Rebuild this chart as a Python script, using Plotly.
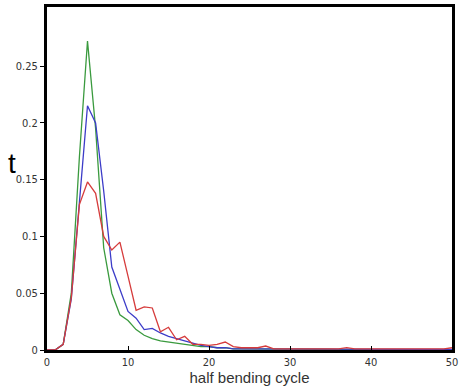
import plotly.graph_objects as go

x_vals = list(range(0, 51))

green = [0, 0, 0.005, 0.05, 0.17, 0.272, 0.195, 0.09, 0.05, 0.031, 0.026, 0.018, 0.013, 0.01, 0.008, 0.007,
         0.006, 0.005, 0.004, 0.003, 0.003, 0.002, 0.002, 0.001, 0.001, 0.001, 0.001, 0.001, 0.0005, 0.0005, 0.0005,
         0.0005, 0.0005, 0.0005, 0.0005, 0.0005, 0.0003, 0.0003, 0.0003, 0.0003, 0.0003, 0.0003, 0.0003, 0.0003,
         0.0003, 0.0003, 0.0003, 0.0003, 0.0003, 0.0003, 0.0003]
blue = [0, 0, 0.005, 0.045, 0.13, 0.215, 0.2, 0.14, 0.073, 0.053, 0.034, 0.028, 0.018, 0.019, 0.015, 0.012,
        0.01, 0.008, 0.006, 0.004, 0.003, 0.002, 0.002, 0.001, 0.001, 0.001, 0.001, 0.001, 0.0008, 0.0008, 0.0008,
        0.0008, 0.0008, 0.0008, 0.0008, 0.0008, 0.0005, 0.0005, 0.0005, 0.0005, 0.0005, 0.0005, 0.0005, 0.0005,
        0.0005, 0.0005, 0.0005, 0.0005, 0.0005, 0.0005, 0.0005]
red = [0, 0, 0.005, 0.046, 0.128, 0.148, 0.138, 0.1, 0.088, 0.095, 0.065, 0.035, 0.038, 0.037, 0.016, 0.02,
       0.009, 0.012, 0.005, 0.005, 0.004, 0.005, 0.007, 0.003, 0.002, 0.002, 0.002, 0.0035, 0.001, 0.001, 0.001,
       0.001, 0.001, 0.0015, 0.001, 0.001, 0.001, 0.002, 0.001, 0.001, 0.001, 0.001, 0.001, 0.001, 0.001, 0.001,
       0.001, 0.001, 0.001, 0.001, 0.002]

x_ticks = [0, 10, 20, 30, 40, 50]
y_ticks = [0, 0.05, 0.1, 0.15, 0.2, 0.25]
y_tick_labels = ["0", "0.05", "0.1", "0.15", "0.2", "0.25"]

fig = go.Figure()
for vals, col in [(green, "#3a9a3e"), (blue, "#3c3cc8"), (red, "#d63c3c")]:
    fig.add_trace(go.Scatter(x=x_vals, y=vals, mode="lines",
                             line=dict(color=col, width=1.3), showlegend=False))

tick_font = dict(family="DejaVu Sans Condensed, DejaVu Sans", size=11, color="#333333")
fig.update_layout(
    width=466, height=390,
    margin=dict(l=47, r=14, t=7, b=40),
    paper_bgcolor="white", plot_bgcolor="white",
    xaxis=dict(range=[0, 50], tickvals=x_ticks, ticks="inside", ticklen=4, tickcolor="black",
               showgrid=False, zeroline=False, showline=True, linecolor="black", linewidth=3,
               mirror=True, tickfont=tick_font, automargin=False,
               title=dict(text="half bending cycle", standoff=4,
                          font=dict(family="Liberation Sans, Arial", size=15, color="#333333"))),
    yaxis=dict(range=[0, 0.302], tickvals=y_ticks, ticktext=y_tick_labels, ticks="outside",
               ticklen=4, tickcolor="black", showgrid=False, zeroline=False, showline=True,
               linecolor="black", linewidth=3, mirror=True, tickfont=tick_font, automargin=False),
)
fig.add_annotation(text="t", xref="paper", yref="paper", x=-0.072, y=0.545, showarrow=False,
                   xanchor="right", font=dict(family="Liberation Sans, Arial", size=28, color="black"))

fig.write_html("out.html", config={"displayModeBar": False},
               post_script="document.body.style.margin='0';")
